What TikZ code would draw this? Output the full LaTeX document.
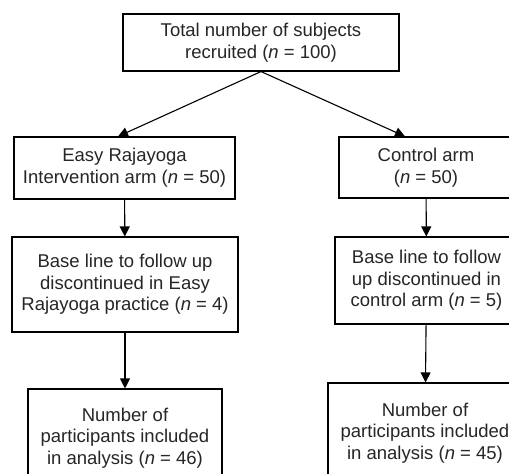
\documentclass[tikz,border=0pt]{standalone}
\usepackage{fontspec}
\setmainfont{Liberation Sans}
\usepackage{tikz}
\usetikzlibrary{arrows.meta}
\newcommand*{\lw}{1.1}

\begin{document}
\begin{tikzpicture}[
   x=1pt, y=-1pt,
   box/.style={rectangle, draw=black, fill=white, line width=\lw, text=black!85,
               inner sep=0, align=center,
               font={\fontsize{18.5}{21.7}\selectfont}},
   link/.style={-{Triangle[length=10pt, width=10pt]}, color=black, line width=\lw}
  ]

  \useasboundingbox (0, 0) rectangle (509, 474);
  \clip (0, 0) rectangle (509, 474);

  \node (top) at (261, 42.5) [box, minimum width=276, minimum height=57]
    {Total number of subjects\\recruited (\textit{n} = 100)};

  \node (easy) at (124.5, 168) [box, minimum width=221, minimum height=62]
    {Easy Rajayoga\\Intervention arm (\textit{n} = 50)};
  \node (ctrl) at (426, 167.5) [box, minimum width=174, minimum height=61]
    {Control arm\\(\textit{n} = 50)};

  \node (baseE) at (125, 284.5) [box, minimum width=226, minimum height=95]
    {Base line to follow up\\discontinued in Easy\\Rajayoga practice (\textit{n} = 4)};
  \node (baseC) at (426.5, 280.5) [box, minimum width=183, minimum height=87]
    {Base line to follow\\up discontinued in\\control arm (\textit{n} = 5)};

  \node (numE) at (125, 438) [box, minimum width=194, minimum height=98]
    {Number of\\participants included\\in analysis (\textit{n} = 46)};
  \node (numC) at (425, 433) [box, minimum width=194, minimum height=100]
    {Number of\\participants included\\in analysis (\textit{n} = 45)};

  \draw[link] (top.south) -- ([xshift=-6.5]easy.north);
  \draw[link] (top.south) -- ([xshift=-21]ctrl.north);

  \foreach \B/\E in {easy/baseE, baseE/numE, ctrl/baseC, baseC/numC} {
    \draw[link] (\B) -- (\E);
  }

\end{tikzpicture}
\end{document}
